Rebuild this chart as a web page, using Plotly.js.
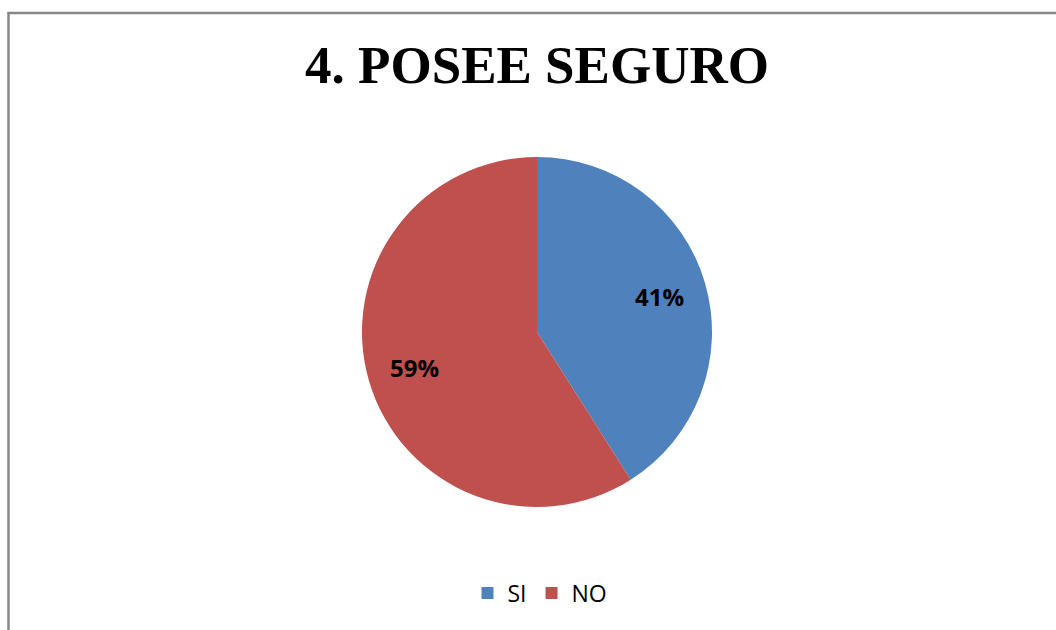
<!DOCTYPE html>
<html><head><meta charset="utf-8">
<script src="https://cdn.plot.ly/plotly-3.0.1.min.js"></script>
<style>html,body{margin:0;padding:0;background:#fff}#chart{width:1056px;height:630px}</style>
</head><body><div id="chart"></div>
<script>
const categories = ["SI", "NO"];
const percentages = [41, 59];
const colors = ["#4F81BD", "#C0504D"];

const W = 1056, H = 630;
const pieBox = {x0: 361, x1: 713, y0: 157, y1: 507};

const trace = {
  type: "pie",
  labels: categories,
  values: percentages,
  sort: false,
  direction: "clockwise",
  rotation: 0,
  marker: {colors: colors, line: {color: "#ffffff", width: 0}},
  textinfo: "none",
  hoverinfo: "label+percent",
  domain: {x: [pieBox.x0 / W, pieBox.x1 / W], y: [1 - pieBox.y1 / H, 1 - pieBox.y0 / H]}
};

// data labels positioned at each slice's mid-angle
const total = percentages.reduce((a, b) => a + b, 0);
const cx = (pieBox.x0 + pieBox.x1) / 2, cy = (pieBox.y0 + pieBox.y1) / 2;
const R = Math.min(pieBox.x1 - pieBox.x0, pieBox.y1 - pieBox.y0) / 2;
const labelR = 0.73 * R;
let cum = 0;
const annotations = percentages.map((v) => {
  const mid = (cum + v / 2) / total * 2 * Math.PI;
  cum += v;
  const px = cx + labelR * Math.sin(mid);
  const py = cy - labelR * Math.cos(mid);
  return {
    xref: "paper", yref: "paper", x: px / W, y: 1 - py / H,
    xanchor: "center", yanchor: "middle", showarrow: false,
    text: "<b>" + Math.round(v / total * 100) + "%</b>",
    font: {family: "Open Sans, Liberation Sans, sans-serif", size: 24, color: "#000000"}
  };
});

const layout = {
  width: W, height: H,
  margin: {l: 0, r: 0, t: 0, b: 0},
  paper_bgcolor: "#ffffff",
  title: {
    text: "<b>4. POSEE SEGURO</b>",
    font: {family: "Liberation Serif, Times New Roman, serif", size: 53, color: "#000000"},
    x: 537 / W, xanchor: "center", y: 1 - 64 / H, yanchor: "middle"
  },
  showlegend: true,
  legend: {
    orientation: "h", x: 540 / W, xanchor: "center", y: 1 - 593 / H, yanchor: "middle",
    font: {family: "Open Sans, Liberation Sans, sans-serif", size: 23, color: "#000000"},
    traceorder: "normal"
  },
  annotations: annotations,
  shapes: [
    {type: "line", xref: "paper", yref: "paper", x0: 8.5 / W, x1: 8.5 / W, y0: 0, y1: 1 - 12 / H, line: {color: "#878787", width: 2.5}},
    {type: "line", xref: "paper", yref: "paper", x0: 7.5 / W, x1: 1, y0: 1 - 13 / H, y1: 1 - 13 / H, line: {color: "#878787", width: 2.5}}
  ]
};

Plotly.newPlot("chart", [trace], layout, {displayModeBar: false, staticPlot: true});
</script></body></html>
